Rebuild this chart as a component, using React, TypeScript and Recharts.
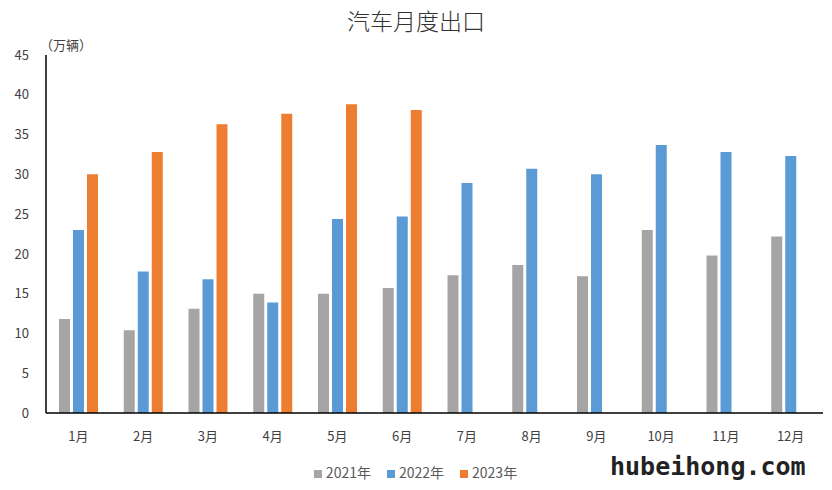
import React from "react";
import { BarChart, Bar, XAxis, YAxis, Legend } from "recharts";

const months = ["1月", "2月", "3月", "4月", "5月", "6月", "7月", "8月", "9月", "10月", "11月", "12月"];
const exports2021 = [11.8, 10.4, 13.1, 15.0, 15.0, 15.7, 17.3, 18.6, 17.2, 23.0, 19.8, 22.2];
const exports2022 = [23.0, 17.8, 16.8, 13.9, 24.4, 24.7, 28.9, 30.7, 30.0, 33.7, 32.8, 32.3];
const exports2023 = [30.0, 32.8, 36.3, 37.6, 38.8, 38.1, null, null, null, null, null, null];
const yTicks = [0, 5, 10, 15, 20, 25, 30, 35, 40, 45];

const data = months.map((m, i) => ({
  month: m,
  y2021: exports2021[i],
  y2022: exports2022[i],
  y2023: exports2023[i],
}));

const font = "'Noto Sans CJK SC', 'Noto Sans', sans-serif";

export default function App() {
  return (
    <div style={{ position: "absolute", left: 0, top: 0, width: 832, height: 490, background: "#fff", fontFamily: font }}>
      <div style={{ position: "absolute", left: 0, width: 832, top: 3, textAlign: "center", fontSize: 23, fontWeight: 300, color: "#333" }}>
        汽车月度出口
      </div>
      <div style={{ position: "absolute", left: 40, top: 35, fontSize: 13, color: "#404040" }}>（万辆）</div>
      <BarChart
        width={832}
        height={490}
        data={data}
        margin={{ top: 55, right: 9, bottom: 11, left: 0 }}
        barSize={11}
        barGap={3}
      >
        <XAxis
          dataKey="month"
          axisLine={{ stroke: "#000", strokeWidth: 1.5 }}
          tickLine={false}
          tickMargin={13}
          height={46}
          tick={{ fontSize: 13, fill: "#404040", fontFamily: font }}
        />
        <YAxis
          domain={[0, 45]}
          ticks={yTicks}
          width={46}
          axisLine={{ stroke: "#000", strokeWidth: 1.5 }}
          tickLine={false}
          tickMargin={11}
          tick={{ fontSize: 13, fill: "#404040", fontFamily: font }}
        />
        <Legend
          verticalAlign="bottom"
          align="center"
          iconType="square"
          iconSize={8}
          height={20}
          wrapperStyle={{ paddingLeft: 12 }}
          formatter={(value) => <span style={{ color: "#595959", fontSize: 14, marginRight: 6 }}>{value}</span>}
        />
        <Bar dataKey="y2021" name="2021年" fill="#A5A5A5" isAnimationActive={false} />
        <Bar dataKey="y2022" name="2022年" fill="#5B9BD5" isAnimationActive={false} />
        <Bar dataKey="y2023" name="2023年" fill="#ED7D31" isAnimationActive={false} />
      </BarChart>
      <div
        style={{
          position: "absolute",
          left: 610,
          top: 452,
          fontSize: 25,
          fontWeight: "bold",
          color: "#222",
          fontFamily: "'DejaVu Sans Mono', monospace",
        }}
      >
        hubeihong.com
      </div>
    </div>
  );
}
